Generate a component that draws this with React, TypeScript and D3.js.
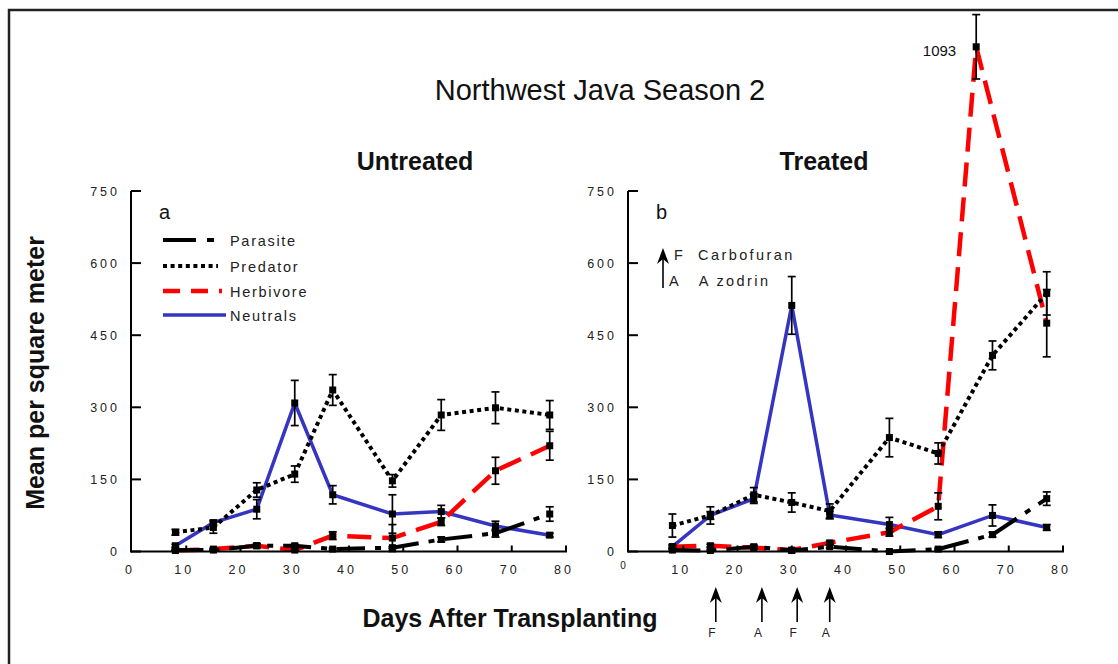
import React from "react";
import * as d3 from "d3";

// ---------- data ----------
const DAYS = [8, 15, 23, 30, 37, 48, 57, 67, 77];
const HERB_B_DAYS = [8, 15, 23, 30, 37, 48, 57, 64, 77];
const X_TICKS = [0, 10, 20, 30, 40, 50, 60, 70, 80];
const Y_TICKS = [0, 150, 300, 450, 600, 750];
const SERIES = ["Parasite", "Predator", "Herbivore", "Neutrals"];

// Untreated (a)
const parasiteA = [3, 3, 12, 12, 5, 8, 25, 38, 78];
const parasiteAErr = [2, 2, 4, 3, 2, 2, 5, 8, 15];
const predatorA = [40, 50, 128, 161, 336, 147, 284, 299, 284];
const predatorAErr = [6, 12, 15, 17, 32, 13, 32, 33, 30];
const herbivoreA = [2, 5, 12, 3, 33, 28, 62, 168, 220];
const herbivoreAErr = [1, 2, 3, 2, 8, 28, 8, 28, 30];
const neutralsA = [12, 60, 88, 309, 118, 78, 83, 53, 34];
const neutralsAErr = [3, 5, 20, 47, 19, 40, 13, 10, 4];

// Treated (b)
const parasiteB = [3, 2, 10, 2, 10, 0, 5, 35, 110];
const parasiteBErr = [2, 2, 3, 2, 3, 1, 2, 5, 14];
const predatorB = [54, 75, 118, 102, 84, 237, 204, 408, 537];
const predatorBErr = [24, 18, 15, 20, 15, 40, 22, 30, 45];
const herbivoreB = [10, 12, 8, 3, 18, 40, 94, 1050, 475];
const herbivoreBErr = [2, 3, 2, 2, 3, 8, 28, 67, 70];
const neutralsB = [10, 75, 110, 512, 76, 56, 35, 75, 50];
const neutralsBErr = [4, 8, 10, 60, 8, 15, 6, 22, 6];

const PEAK_LABEL = "1093";
const SPRAY_DAYS = [16, 24.5, 31, 37];
const SPRAY_LABELS = ["F", "A", "F", "A"];

// ---------- styles ----------
const FONT = "'Liberation Sans', Arial, sans-serif";
const STYLE: Record<string, { color: string; width: number; dash?: string; legendDash?: string }> = {
  Parasite: { color: "#000", width: 4, dash: "28 10 6 10", legendDash: "33 11 7 40" },
  Predator: { color: "#000", width: 4, dash: "4 3.6", legendDash: "4 3.6" },
  Herbivore: { color: "#ff0000", width: 4.5, dash: "24 11", legendDash: "17 11" },
  Neutrals: { color: "#3535c2", width: 3.5 },
};

const y = d3.scaleLinear().domain([0, 750]).range([551.5, 191]);

type S = { name: string; days: number[]; vals: number[]; errs: number[] };

function Panel({ x0, x1, series, letter, zeroRaised }: { x0: number; x1: number; series: S[]; letter: string; zeroRaised: boolean }) {
  const x = d3.scaleLinear().domain([0, 80]).range([x0, x1]);
  const axX = x0 - 1;
  const order = ["Neutrals", "Herbivore", "Predator", "Parasite"];
  const sorted = order.map((n) => series.find((s) => s.name === n)!);
  return (
    <g>
      {sorted.map((s) => {
        const st = STYLE[s.name];
        const line = d3.line<number>().x((_, i) => x(s.days[i])).y((v) => y(v));
        return (
          <path key={s.name} d={line(s.vals) || ""} fill="none" stroke={st.color} strokeWidth={st.width}
            strokeDasharray={st.dash} strokeLinejoin="miter" />
        );
      })}
      {sorted.map((s) =>
        s.vals.map((v, i) => {
          const cx = x(s.days[i]);
          const top = y(v + s.errs[i]);
          const bot = y(Math.max(0, v - s.errs[i]));
          return (
            <g key={s.name + "e" + i} stroke="#000" strokeWidth={1.7}>
              <line x1={cx} x2={cx} y1={top} y2={bot} />
              <line x1={cx - 4} x2={cx + 4} y1={top} y2={top} />
              <line x1={cx - 4} x2={cx + 4} y1={bot} y2={bot} />
            </g>
          );
        })
      )}
      {sorted.map((s) =>
        s.vals.map((v, i) => (
          <rect key={s.name + "m" + i} x={x(s.days[i]) - 3.5} y={y(v) - 3.5} width={7} height={7} fill="#000" />
        ))
      )}
      <line x1={axX} x2={axX} y1={y(750)} y2={y(0) + 1} stroke="#000" strokeWidth={2} />
      <line x1={axX} x2={x(80) + 1} y1={y(0)} y2={y(0)} stroke="#000" strokeWidth={2} />
      {Y_TICKS.map((t) => (
        <g key={"yt" + t}>
          <line x1={axX} x2={axX + 10} y1={y(t)} y2={y(t)} stroke="#000" strokeWidth={2} />
          <text x={axX - 11} y={y(t) + 4.5} textAnchor="end" fontSize={12.5} letterSpacing={3}
            fontFamily={FONT} fill="#222">{t}</text>
        </g>
      ))}
      {X_TICKS.map((t) => (
        <g key={"xt" + t}>
          {t > 0 && <line x1={x(t)} x2={x(t)} y1={y(0)} y2={y(0) - 6} stroke="#000" strokeWidth={2} />}
          {t === 0 && zeroRaised ? (
            <text x={x(t) - 6} y={569} textAnchor="middle" fontSize={10} fontFamily={FONT} fill="#222">{t}</text>
          ) : (
            <text x={x(t) - 2} y={574} textAnchor="middle" fontSize={12.5} letterSpacing={3}
              fontFamily={FONT} fill="#222">{t}</text>
          )}
        </g>
      ))}
      <text x={x0 + 27} y={219} fontSize={20} fontFamily={FONT} fill="#111">{letter}</text>
    </g>
  );
}

function Arrow({ x, tip, bottom }: { x: number; tip: number; bottom: number }) {
  return (
    <g>
      <line x1={x} x2={x} y1={tip + 8} y2={bottom} stroke="#000" strokeWidth={1.6} />
      <path d={`M${x},${tip} L${x + 6},${tip + 16} L${x},${tip + 11} L${x - 6},${tip + 16} Z`} fill="#000" />
    </g>
  );
}

export default function App() {
  const seriesA: S[] = [
    { name: "Parasite", days: DAYS, vals: parasiteA, errs: parasiteAErr },
    { name: "Predator", days: DAYS, vals: predatorA, errs: predatorAErr },
    { name: "Herbivore", days: DAYS, vals: herbivoreA, errs: herbivoreAErr },
    { name: "Neutrals", days: DAYS, vals: neutralsA, errs: neutralsAErr },
  ];
  const seriesB: S[] = [
    { name: "Parasite", days: DAYS, vals: parasiteB, errs: parasiteBErr },
    { name: "Predator", days: DAYS, vals: predatorB, errs: predatorBErr },
    { name: "Herbivore", days: HERB_B_DAYS, vals: herbivoreB, errs: herbivoreBErr },
    { name: "Neutrals", days: DAYS, vals: neutralsB, errs: neutralsBErr },
  ];
  const xB = d3.scaleLinear().domain([0, 80]).range([629, 1063]);
  const peakIdx = herbivoreB.indexOf(d3.max(herbivoreB)!);
  const legendY = [240, 266, 291, 315];
  const legendEnd = [215, 218, 222, 226];
  return (
    <svg width={1118} height={664} style={{ position: "absolute", left: 0, top: 0, background: "#fff" }}>
      <rect x={0} y={0} width={1118} height={664} fill="#fff" />
      <rect x={9} y={10} width={1300} height={800} fill="none" stroke="#222" strokeWidth={2.5} />

      <text x={600} y={100} textAnchor="middle" fontSize={29} fontFamily={FONT} fill="#111">Northwest Java Season 2</text>
      <text x={415} y={170} textAnchor="middle" fontSize={25} fontWeight="bold" fontFamily={FONT} fill="#111">Untreated</text>
      <text x={824} y={170} textAnchor="middle" fontSize={25} fontWeight="bold" fontFamily={FONT} fill="#111">Treated</text>
      <text transform="translate(44,373) rotate(-90)" textAnchor="middle" fontSize={25} fontWeight="bold"
        fontFamily={FONT} fill="#111">Mean per square meter</text>
      <text x={510} y={627} textAnchor="middle" fontSize={25} fontWeight="bold" fontFamily={FONT} fill="#111">Days After Transplanting</text>

      <Panel x0={132} x1={566} series={seriesA} letter="a" zeroRaised={false} />
      <Panel x0={629} x1={1063} series={seriesB} letter="b" zeroRaised={true} />

      {SERIES.map((name, i) => {
        const st = STYLE[name];
        return (
          <g key={"lg" + name}>
            <line x1={163} x2={legendEnd[i]} y1={legendY[i]} y2={legendY[i]}
              stroke={st.color} strokeWidth={st.width} strokeDasharray={st.legendDash} />
            <text x={230} y={legendY[i] + 6} fontSize={14.5} letterSpacing={1.7} fontFamily={FONT} fill="#222">{name}</text>
          </g>
        );
      })}

      <Arrow x={663} tip={248} bottom={288} />
      <text x={674} y={260} fontSize={14.5} letterSpacing={2.4} fontFamily={FONT} fill="#222" xmlSpace="preserve">F  Carbofuran</text>
      <text x={669} y={286} fontSize={14.5} letterSpacing={2.4} fontFamily={FONT} fill="#222" xmlSpace="preserve">A   A zodrin</text>

      <text x={xB(HERB_B_DAYS[peakIdx]) - 20} y={y(herbivoreB[peakIdx]) + 9} textAnchor="end" fontSize={15}
        fontFamily={FONT} fill="#111">{PEAK_LABEL}</text>

      {SPRAY_DAYS.map((d, i) => (
        <g key={"sp" + i}>
          <Arrow x={xB(d)} tip={587} bottom={622} />
          <text x={xB(d) - 4} y={637} textAnchor="middle" fontSize={12} fontFamily={FONT} fill="#222">{SPRAY_LABELS[i]}</text>
        </g>
      ))}
    </svg>
  );
}
